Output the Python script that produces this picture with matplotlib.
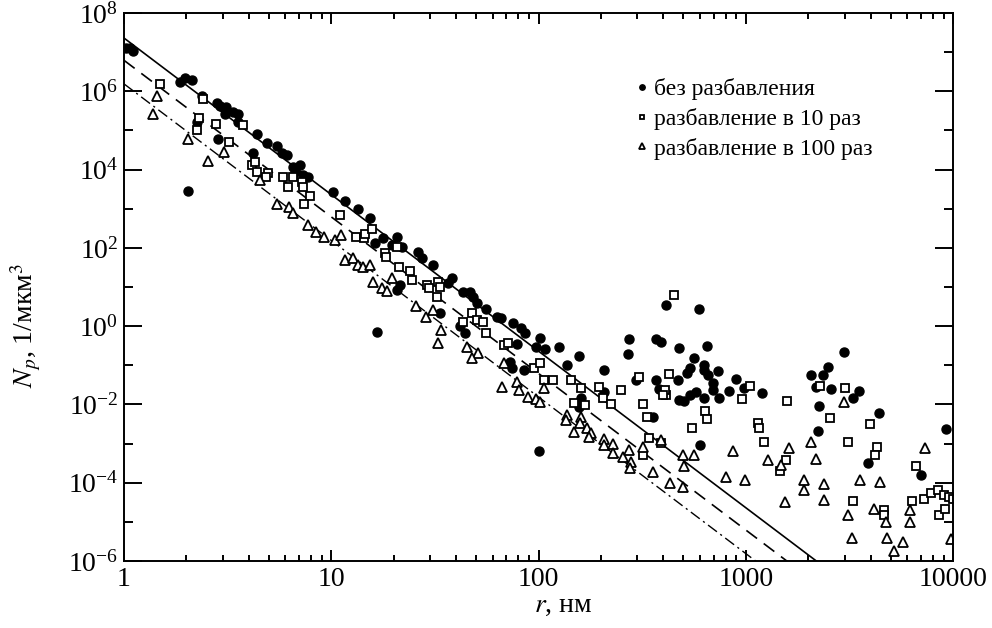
import matplotlib
matplotlib.use('Agg')
import matplotlib.pyplot as plt
import numpy as np
from matplotlib import ticker

matplotlib.rcParams['font.family'] = 'Liberation Serif'
matplotlib.rcParams['mathtext.fontset'] = 'stix'

# без разбавления (filled circles)
r_full = [1.02, 1.07, 1.1, 1.87, 1.97, 2.13, 2.38, 2.81, 2.91, 3.11, 3.07, 3.36, 3.55, 3.55,
          4.39, 4.91, 5.48, 5.8, 6.13, 6.55, 7.08, 7.33, 7.74, 6.7, 2.25, 2.85, 4.2, 2.04,
          10.2, 11.7, 13.5, 15.3, 16.3, 17.8, 20.8, 19.7, 22, 26.3, 27.5, 31.1, 38.4, 36.7,
          21.5, 20.8, 33.6, 43, 46.9, 48.5, 50.7, 55.5, 63.4, 65.6, 75.7, 81.9, 86.5, 102,
          96.8, 108, 125, 79.1, 73.2, 74.9, 84.7, 44.4, 42, 16.7, 138, 156, 206, 272, 269,
          367, 294, 367, 388, 411, 474, 380, 470, 206, 160, 156, 355, 100, 593, 648, 561,
          537, 520, 627, 627, 655, 733, 693, 693, 573, 540, 504, 474, 627, 740, 895, 828,
          977, 1195, 600, 2061, 2354, 2490, 2185, 2580, 2973, 3290, 3515, 2252, 2227, 4393,
          9250, 3880, 7000]
n_full = [1.3e7, 1.26e7, 1.1e7, 1.7e6, 2.2e6, 2.0e6, 7.4e5, 5.1e5, 4.1e5, 3.9e5, 2.6e5,
          2.9e5, 2.6e5, 1.6e5, 7.9e4, 4.9e4, 3.9e4, 2.6e4, 2.3e4, 1.2e4, 1.35e4, 7.4e3,
          6.6e3, 8.9e3, 1.6e5, 5.9e4, 2.7e4, 2.9e3, 2.75e3, 1.6e3, 1.0e3, 590, 135, 174,
          195, 120, 107, 79, 56, 37, 17, 13, 11.5, 8.5, 2.2, 7.6, 7.6, 5.6, 4.0, 2.8, 1.7,
          1.66, 1.23, 0.91, 0.68, 0.5, 0.3, 0.26, 0.3, 0.35, 0.12, 0.087, 0.076, 0.68, 1.0,
          0.72, 0.1, 0.17, 0.076, 0.48, 0.19, 0.48, 0.043, 0.043, 0.4, 3.5, 0.28, 0.025,
          0.043, 0.021, 0.015, 0.0087, 0.0048, 6.5e-4, 2.8, 0.32, 0.15, 0.087, 0.065, 0.1,
          0.076, 0.058, 0.072, 0.035, 0.023, 0.021, 0.017, 0.012, 0.013, 0.015, 0.015,
          0.045, 0.022, 0.026, 0.02, 9.3e-4, 0.058, 0.058, 0.091, 0.028, 0.025, 0.22,
          0.015, 0.022, 0.009, 0.0021, 0.0062, 0.0024, 3.2e-4, 1.6e-4]

# разбавление в 10 раз (open squares)
r_10 = [1.49, 2.41, 2.3, 2.78, 2.25, 3.22, 3.76, 4.15, 4.29, 4.39, 4.97, 4.83, 5.86, 6.2,
        6.55, 7.25, 7.33, 7.92, 7.41, 11.05, 13.2, 14.4, 14.6, 15.8, 18.2, 18.4, 21.3,
        20.8, 24.1, 24.4, 29.1, 29.5, 32.9, 33.6, 32.5, 48, 43.4, 50.7, 54.2, 56.1, 67.8,
        71.3, 94.6, 102, 106, 117, 143, 160, 195, 250, 304, 149, 167, 204, 225, 321, 332,
        411, 425, 449, 340, 388, 321, 408, 397, 634, 648, 548, 957, 1045, 1578, 1143,
        1155, 1222, 2277, 3006, 2547, 3111, 3972, 4295, 4200, 1560, 1459, 6620, 3290,
        4645, 4645, 6340, 7245, 7840, 8470, 9030, 9550, 9950, 8550, 9140]
n_10 = [1.5e6, 6.2e5, 2.1e5, 1.5e5, 1.0e5, 5.2e4, 1.35e5, 1.35e4, 1.6e4, 8.9e3, 8.3e3,
        6.6e3, 6.3e3, 3.7e3, 6.3e3, 4.9e3, 3.5e3, 2.1e3, 1.35e3, 710, 195, 182, 230, 310,
        76, 60, 33, 107, 25, 15.5, 11.5, 9.5, 13.8, 10.2, 5.6, 2.2, 1.3, 1.45, 1.3, 0.68,
        0.33, 0.38, 0.087, 0.115, 0.043, 0.043, 0.043, 0.026, 0.028, 0.023, 0.051, 0.011,
        0.0098, 0.015, 0.0105, 0.0102, 0.0048, 0.017, 0.06, 6.3, 0.0014, 0.00105, 5.1e-4,
        0.023, 0.017, 0.0069, 0.0043, 0.0025, 0.0138, 0.03, 0.0123, 0.0034, 0.0025,
        0.0011, 0.03, 0.026, 0.0046, 0.0011, 0.0032, 8.3e-4, 5.1e-4, 3.8e-4, 2.0e-4,
        2.7e-4, 3.4e-5, 2.0e-5, 1.5e-5, 3.4e-5, 3.9e-5, 5.5e-5, 6.6e-5, 4.9e-5, 4.4e-5,
        3.9e-5, 1.5e-5, 2.1e-5]

# разбавление в 100 раз (open triangles)
r_100 = [1.44, 1.38, 2.04, 2.55, 3.04, 4.54, 5.48, 6.27, 6.55, 7.74, 8.47, 9.25, 10.4,
         11.1, 11.7, 12.8, 13.4, 14.3, 15.4, 15.9, 17.6, 18.6, 19.7, 25.7, 28.5, 31.1, 34,
         32.9, 45.4, 51.3, 48, 67.8, 66.4, 79.1, 80.9, 88.5, 96.8, 102, 106, 138, 135, 160,
         158, 148, 172, 179, 175, 208, 206, 230, 230, 255, 272, 278, 275, 321, 355, 388,
         430, 497, 497, 561, 505, 800, 988, 865, 1277, 1614, 1475, 2061, 2178, 1905, 1905,
         2382, 2382, 1543, 3555, 4437, 3111, 4150, 4745, 6200, 6200, 3250, 4800, 5730,
         5190, 7330, 9780, 2973]
n_100 = [7.4e5, 2.6e5, 5.9e4, 1.7e4, 2.9e4, 5.5e3, 1.35e3, 1.1e3, 790, 390, 257, 195, 162,
         219, 50, 56, 37, 33, 37, 13.8, 9.5, 8, 17.4, 3.3, 1.7, 2.6, 0.8, 0.38, 0.3, 0.21,
         0.155, 0.115, 0.028, 0.038, 0.023, 0.0155, 0.0138, 0.0118, 0.026, 0.0054, 0.0041,
         0.0048, 0.0034, 0.002, 0.0025, 0.0019, 0.0015, 0.0013, 9.3e-4, 0.001, 5.8e-4,
         4.6e-4, 6.9e-4, 3.4e-4, 2.4e-4, 8.3e-4, 1.9e-4, 1.2e-3, 1e-4, 7.9e-5, 5.1e-4,
         5.1e-4, 2.7e-4, 1.4e-4, 1.17e-4, 6.5e-4, 3.8e-4, 7.8e-4, 2.9e-4, 1.1e-3, 4.1e-4,
         1.17e-4, 6.6e-5, 9.3e-5, 3.6e-5, 3.2e-5, 1.17e-4, 1.05e-4, 1.5e-5, 2.1e-5, 1e-5,
         2.0e-5, 1e-5, 3.9e-6, 3.9e-6, 3.1e-6, 1.8e-6, 7.8e-4, 3.6e-6, 0.0118]

# power-law fits N = A * r^k
fit_A = [2.3e7, 6.2e6, 1.55e6]
fit_k = [-4.0, -4.0, -4.0]

labels = ['без разбавления', 'разбавление в 10 раз', 'разбавление в 100 раз']

fig = plt.figure(figsize=(9.92, 6.28), dpi=100)
ax = fig.add_axes([0.125, 0.1067, 0.8357, 0.8725])
ax.set_xscale('log')
ax.set_yscale('log')
ax.set_xlim(1, 10000)
ax.set_ylim(1e-6, 1e8)

rr = np.logspace(0, 4, 200)
ax.plot(rr, fit_A[0] * rr ** fit_k[0], color='black', lw=1.2)
ax.plot(rr, fit_A[1] * rr ** fit_k[1], color='black', lw=1.2, dashes=(8, 5))
ax.plot(rr, fit_A[2] * rr ** fit_k[2], color='black', lw=1.0, dashes=(8, 3, 1.5, 3))

ax.plot(r_full, n_full, 'o', color='black', ms=6.5, ls='none', label=labels[0])
ax.plot(r_10, n_10, 's', mfc='white', mec='black', mew=1.3, ms=6, ls='none', label=labels[1])
ax.plot(r_100, n_100, '^', mfc='white', mec='black', mew=1.3, ms=6.5, ls='none', label=labels[2])

ax.xaxis.set_major_locator(ticker.LogLocator(base=10))
ax.xaxis.set_minor_locator(ticker.LogLocator(base=10, subs=np.arange(2, 10)))
ax.xaxis.set_major_formatter(ticker.FuncFormatter(lambda v, p: '%d' % round(v)))
ax.xaxis.set_minor_formatter(ticker.NullFormatter())

ax.yaxis.set_major_locator(ticker.FixedLocator([10.0 ** e for e in range(-6, 9, 2)]))
ax.yaxis.set_minor_locator(ticker.FixedLocator([10.0 ** e for e in range(-5, 8, 2)]))
ax.yaxis.set_major_formatter(ticker.LogFormatterSciNotation())
ax.yaxis.set_minor_formatter(ticker.NullFormatter())

ax.tick_params(axis='both', which='both', direction='in', top=True, right=True,
               labelsize=20, width=1.4)
ax.tick_params(axis='x', which='major', length=8, pad=4)
ax.tick_params(axis='x', which='minor', length=4.5)
ax.tick_params(axis='y', which='major', length=13, pad=4)
ax.tick_params(axis='y', which='minor', length=6.5)
for s in ax.spines.values():
    s.set_linewidth(1.4)

ax.set_xlabel('$r$, нм', fontsize=20)
ax.set_ylabel('$N_p$, 1/мкм$^3$', fontsize=20)
ax.xaxis.set_label_coords(0.53, -0.058)
ax.yaxis.set_label_coords(-0.098, 0.43)

leg = ax.legend(loc='upper left', bbox_to_anchor=(0.601, 0.898), frameon=False, fontsize=17,
                markerscale=0.6, handletextpad=0.05, handlelength=0.9, labelspacing=0.32,
                borderaxespad=0)

fig.savefig('out.png', dpi=100)
